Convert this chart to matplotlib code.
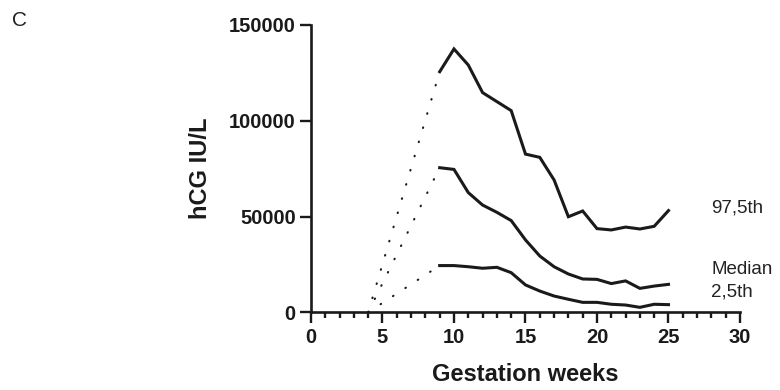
import matplotlib
matplotlib.use("Agg")
import matplotlib.pyplot as plt
from matplotlib.ticker import MultipleLocator

plt.rcParams['font.family'] = ['Liberation Sans', 'DejaVu Sans']

# gestation weeks with measured percentiles (hCG IU/L)
weeks = [9, 10, 11, 12, 13, 14, 15, 16, 17, 18, 19, 20, 21, 22, 23, 24, 25]
p975 = [125600, 137500, 129100, 114700, 110000, 105300, 82600, 80900, 69100,
        49900, 52900, 43700, 43000, 44500, 43500, 44900, 53100]
median = [75500, 74600, 62500, 56000, 52200, 47900, 37800, 29400, 23800,
          20000, 17400, 17200, 15000, 16400, 12500, 13700, 14600]
p25 = [24400, 24400, 23800, 23000, 23500, 20700, 14300, 11100, 8500,
       6800, 5200, 5200, 4200, 3800, 2600, 4200, 4000]

# extrapolated early part (dotted), from week 4 up to first measured week
early_weeks = [4, 9]
early_start = 0

series_labels = ["97,5th", "Median", "2,5th"]
label_y = [54400, 22100, 10600]

ink = "#1a1a1a"

fig = plt.figure(figsize=(7.8, 3.9), dpi=100)
ax = fig.add_axes([0.3987, 0.1992, 0.55, 0.7367])

for vals in (p975, median, p25):
    ax.plot(weeks, vals, color=ink, lw=2.2, solid_joinstyle='miter')
    ax.plot(early_weeks, [early_start, vals[0]], color=ink, lw=1.5,
            linestyle=(0, (0.3, 6.8)), dash_capstyle='round')

for lab, yy in zip(series_labels, label_y):
    ax.text(28, yy, lab, fontsize=13.5, color="#222222", va='center', ha='left',
            clip_on=False)

ax.set_xlim(0, 30)
ax.set_ylim(0, 150000)
ax.xaxis.set_major_locator(MultipleLocator(5))
ax.xaxis.set_minor_locator(MultipleLocator(1))
ax.yaxis.set_major_locator(MultipleLocator(50000))

for s in ('top', 'right'):
    ax.spines[s].set_visible(False)
for s in ('left', 'bottom'):
    ax.spines[s].set_linewidth(1.9)
    ax.spines[s].set_color(ink)

ax.tick_params(axis='both', which='major', length=8, width=1.7, color=ink,
               labelsize=14.5, pad=3)
ax.tick_params(axis='x', which='minor', length=4.5, width=1.7, color=ink)
for t in ax.get_xticklabels() + ax.get_yticklabels():
    t.set_fontweight('bold')
    t.set_color(ink)

ax.set_xlabel("Gestation weeks", fontsize=17, fontweight='bold', color=ink, labelpad=12)
ax.set_ylabel("hCG IU/L", fontsize=17, fontweight='bold', color=ink, labelpad=12)

fig.text(0.016, 0.948, "C", fontsize=15, color="#222222", va='center')

fig.savefig("out.png", dpi=100)
